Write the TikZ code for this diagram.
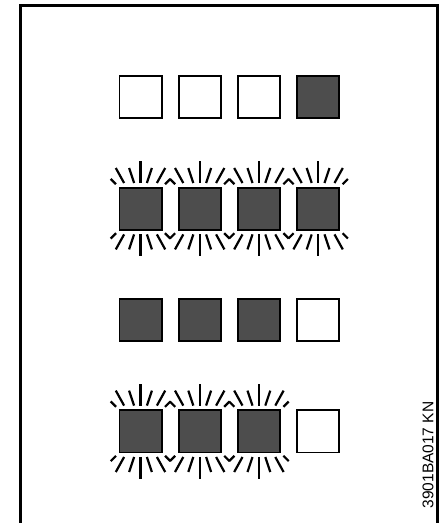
\documentclass[tikz,border=0pt]{standalone}
\usepackage{fontspec}
\setmainfont{Liberation Sans}
\definecolor{ledgray}{RGB}{77,77,77}
\begin{document}
\begin{tikzpicture}[x=1pt,y=-1pt,
  offsq/.style={draw=black,line width=1.8pt,fill=white,minimum size=42.2pt,inner sep=0pt,outer sep=0pt},
  onsq/.style={draw=black,line width=1.8pt,fill=ledgray,minimum size=42.2pt,inner sep=0pt,outer sep=0pt},
  ray/.style={line width=2.2pt,black},
  frameline/.style={line width=3pt,black}]
\useasboundingbox (0,0) rectangle (444,523);
% frame (open at bottom)
\draw[frameline] (20.5,530) -- (20.5,5.5) -- (437.5,5.5) -- (437.5,530);
% row 1
\node[offsq] (s11) at (140.5,97) {};
\node[offsq] (s12) at (199.7,97) {};
\node[offsq] (s13) at (258.9,97) {};
\node[onsq]  (s14) at (318.1,97) {};
% row 2
\node[onsq] (s21) at (140.5,208.7) {};
\node[onsq] (s22) at (199.7,208.7) {};
\node[onsq] (s23) at (258.9,208.7) {};
\node[onsq] (s24) at (318.1,208.7) {};
% row 3
\node[onsq]  (s31) at (140.5,320) {};
\node[onsq]  (s32) at (199.7,320) {};
\node[onsq]  (s33) at (258.9,320) {};
\node[offsq] (s34) at (318.1,320) {};
% row 4
\node[onsq]  (s41) at (140.5,431.3) {};
\node[onsq]  (s42) at (199.7,431.3) {};
\node[onsq]  (s43) at (258.9,431.3) {};
\node[offsq] (s44) at (318.1,431.3) {};
% glow rays
\foreach \s in {s21,s22,s23,s24,s41,s42,s43} {
  \begin{scope}[shift={(\s.center)}]
    \foreach \v in {1,-1} {
      \draw[ray] (0,{25.5*(\v)}) -- (0,{47.7*(\v)});
      \foreach \h in {1,-1} {
        \draw[ray] ({6.4*(\h)},{25.7*(\v)}) -- ({11.4*(\h)},{40.7*(\v)});
        \draw[ray] ({16.4*(\h)},{25.7*(\v)}) -- ({24.7*(\h)},{40.7*(\v)});
        \draw[ray] ({24.5*(\h)},{24.5*(\v)}) -- ({29.8*(\h)},{29.8*(\v)});
      }
    }
  \end{scope}
}
\node[rotate=90,font=\fontsize{15.5}{17}\selectfont,inner sep=0pt] (code) at (428,455) {3901BA017 KN};
\end{tikzpicture}
\end{document}
